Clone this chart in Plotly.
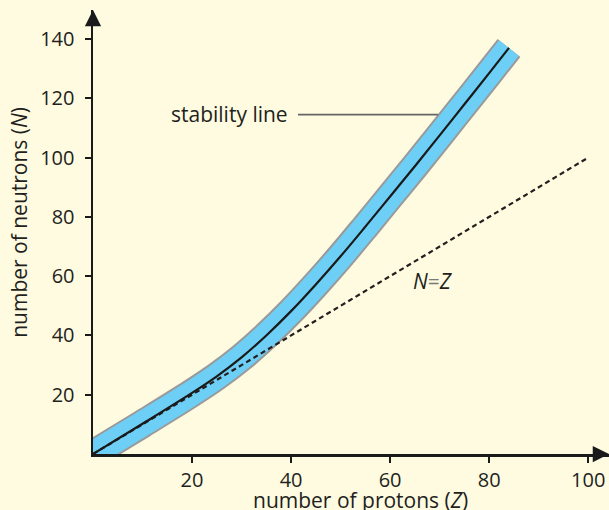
import plotly.graph_objects as go

# Stability line
protons_Z = [0, 10, 20, 25, 30, 35, 40, 45, 50, 55, 60, 65, 70, 75, 80, 84]
neutrons_N = [0, 10.2, 20.6, 26.2, 32.6, 40.0, 48.2, 57.2, 66.7, 76.7, 86.9, 97.1, 107.5, 118.0, 128.5, 137.0]

# N = Z reference line
nz_Z = [0, 100]
nz_N = [0, 100]

x_ticks = [20, 40, 60, 80, 100]
y_ticks = [20, 40, 60, 80, 100, 120, 140]

BG = "#fefbe0"
FONT = "Open Sans"
TXT = "#231f20"

fig = go.Figure()

spl = dict(shape="spline", smoothing=1.0)
fig.add_trace(go.Scatter(x=protons_Z, y=neutrons_N, mode="lines",
                         line=dict(color="#9a9a9a", width=29, **spl),
                         hoverinfo="skip", showlegend=False))
fig.add_trace(go.Scatter(x=protons_Z, y=neutrons_N, mode="lines",
                         line=dict(color="#6dcff6", width=25, **spl),
                         hoverinfo="skip", showlegend=False))
fig.add_trace(go.Scatter(x=nz_Z, y=nz_N, mode="lines",
                         line=dict(color="#231f20", width=2.2, dash="5px,3.5px"),
                         hoverinfo="skip", showlegend=False))
fig.add_trace(go.Scatter(x=protons_Z, y=neutrons_N, mode="lines",
                         line=dict(color="#1a1a1a", width=2.2, **spl),
                         hoverinfo="skip", showlegend=False))

X_MAX = 104.2
Y_MAX = 149.8

axis_common = dict(showgrid=False, zeroline=False, automargin=False,
                   showline=True, linecolor="#1a1a1a", linewidth=2.5,
                   ticks="outside", ticklen=6, tickwidth=2, tickcolor="#1a1a1a",
                   tickfont=dict(family=FONT, size=20, color=TXT))

fig.update_layout(
    width=609, height=510,
    margin=dict(l=93, r=0, t=10, b=56),
    paper_bgcolor=BG, plot_bgcolor=BG,
    font=dict(family=FONT, size=20, color=TXT),
    xaxis=dict(range=[0, X_MAX], tickvals=x_ticks, **axis_common),
    yaxis=dict(range=[0, Y_MAX], tickvals=y_ticks, ticklabelstandoff=6, **axis_common),
    shapes=[dict(type="line", xref="x", yref="y", x0=41.4, x1=69.7, y0=114.5, y1=114.5,
                 line=dict(color="#666666", width=1.6))],
    annotations=[
        dict(x=0, y=Y_MAX, xref="x", yref="y", ax=0, ay=16, text="", showarrow=True,
             arrowhead=2, arrowsize=1.3, arrowwidth=2.5, arrowcolor="#1a1a1a"),
        dict(x=X_MAX, y=0, xref="x", yref="y", ax=-16, ay=0, text="", showarrow=True,
             arrowhead=2, arrowsize=1.3, arrowwidth=2.5, arrowcolor="#1a1a1a"),
        dict(x=39.7, y=114.8, xref="x", yref="y", text="stability line", showarrow=False,
             xanchor="right", yanchor="middle", font=dict(family=FONT, size=21, color=TXT)),
        dict(x=68.7, y=58.5, xref="x", yref="y",
             text="<i>N</i><span style='color:#7a7a7a'>=</span><i>Z</i>", showarrow=False,
             xanchor="center", yanchor="middle", font=dict(family=FONT, size=21, color=TXT)),
        dict(x=54, y=0, xref="x", yref="paper", yshift=-46,
             text="number of protons (<i>Z</i>)", showarrow=False,
             xanchor="center", yanchor="middle", font=dict(family=FONT, size=21, color=TXT)),
        dict(x=0, y=78, xref="paper", yref="y", xshift=-74,
             text="number of neutrons (<i>N</i>)", showarrow=False, textangle=-90,
             xanchor="center", yanchor="middle", font=dict(family=FONT, size=21, color=TXT)),
    ],
)

fig.write_html(
    "out.html",
    config={"displayModeBar": False, "staticPlot": True},
    post_script="document.body.style.margin='0';document.body.style.overflow='hidden';"
                "document.body.style.background='" + BG + "';",
)
